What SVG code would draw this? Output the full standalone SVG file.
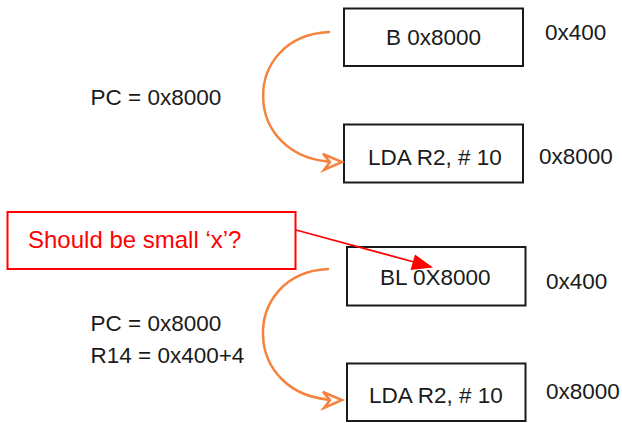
<svg xmlns="http://www.w3.org/2000/svg" width="622" height="423" viewBox="0 0 622 423">
<style>
  .box { fill: none; stroke: #1a1a1a; stroke-width: 2; }
  .t { font-family: "Liberation Sans", Arial, Helvetica, sans-serif; font-size: 22.5px; fill: #1a1a1a; }
  .note { fill: #ffffff; stroke: #ff0000; stroke-width: 2; }
  .nt { font-family: "Liberation Sans", Arial, Helvetica, sans-serif; font-size: 24px; fill: #ff0000; }
  .arc { fill: none; stroke: #f5823f; stroke-width: 2.5; stroke-linecap: round; }
  .ahead { fill: #ffffff; stroke: #f5823f; stroke-width: 2.5; stroke-linejoin: miter; }
  .red { fill: none; stroke: #ff0000; stroke-width: 1.8; }
</style>
<rect width="622" height="423" fill="#ffffff"/>

<g id="labels">
  <text class="t" x="90.5" y="105">PC = 0x8000</text>
  <text class="t" x="90.5" y="331">PC = 0x8000</text>
  <text class="t" x="90.5" y="363">R14 = 0x400+4</text>
</g>

<g id="node-b">
  <rect class="box" x="344" y="8.5" width="179" height="57.5"/>
  <text class="t" x="433.5" y="45" text-anchor="middle">B 0x8000</text>
  <text class="t" x="545" y="40">0x400</text>
</g>

<g id="node-lda1">
  <rect class="box" x="344" y="124.5" width="179" height="58"/>
  <text class="t" x="368" y="165">LDA R2, # 10</text>
  <text class="t" x="539" y="164">0x8000</text>
</g>

<g id="node-bl">
  <rect class="box" x="347" y="247" width="178.5" height="58.5"/>
  <text class="t" x="380" y="285">BL 0X8000</text>
  <text class="t" x="546" y="289">0x400</text>
</g>

<g id="node-lda2">
  <rect class="box" x="347" y="363.5" width="178.5" height="57.5"/>
  <text class="t" x="369" y="403">LDA R2, # 10</text>
  <text class="t" x="546" y="399">0x8000</text>
</g>

<g id="note">
  <rect class="note" x="7.5" y="212" width="288" height="57"/>
  <text class="nt" x="28" y="248">Should be small ‘x’?</text>
</g>

<g id="connectors">
  <path class="arc" d="M329,32 C240,36 240,160 336,162"/>
  <path class="ahead" d="M323,154 L342,162 L324,170 L330,162 Z"/>
  <path class="arc" d="M328,269 C240,273 240,398 336,400"/>
  <path class="ahead" d="M323,392 L342,400 L324,408 L330,400 Z"/>
  <line class="red" x1="296" y1="230" x2="414" y2="262"/>
  <polygon fill="#ff0000" points="433,267.5 410.5,270 415,254.5"/>
</g>
</svg>
